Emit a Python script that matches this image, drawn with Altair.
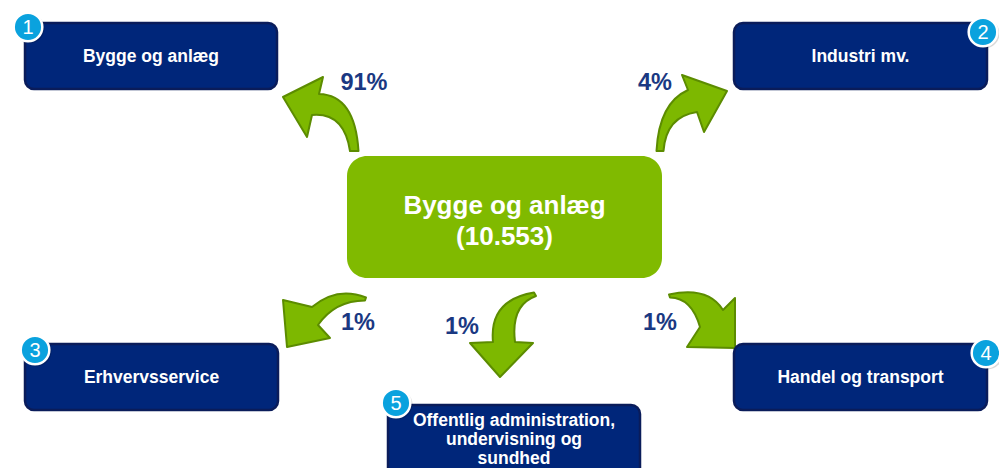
import altair as alt
import pandas as pd

# ---------------- content ----------------
source_sector = "Bygge og anlæg"
source_total = "10.553"
targets = ["Bygge og anlæg", "Industri mv.", "Erhvervsservice", "Handel og transport",
           "Offentlig administration,\nundervisning og\nsundhed"]
target_numbers = [1, 2, 3, 4, 5]
shares_pct = [91, 4, 1, 1, 1]

# ---------------- layout (page pixels) ----------------
box_x0 = [25, 734, 25, 734, 388]
box_x1 = [277, 987, 278, 987, 640]
box_y0 = [23, 23, 344, 344, 405]
box_y1 = [89, 89, 410, 410, 490]
text_y = [56, 56, 377, 377, 420]          # first text line
badge_x = [28, 983, 35, 986, 396]
badge_y = [27, 32, 350, 353, 403]
label_x = [364, 655, 358, 462, 660]
label_y = [82, 82, 322, 326, 322]
arrow_x = [354, 660, 365, 535, 670]
arrow_y = [151, 151, 299, 294, 296]
center_x0, center_x1, center_y0, center_y1 = 347, 662, 156, 278
center_text_y = 205                        # first text line

# arrow glyphs (offsets in px from the arrow anchor; size=4 -> 1 unit = 1 px)
arrow_paths = [
    "M4.5,0 Q1,-56 -35,-57 L-31,-74 L-71,-54 L-47,-14 L-42,-36 Q-10,-39 -4,0 Z",
    "M-3.5,0 Q-1,-48 28,-61 L22,-76 L67,-60 L44,-19 L37,-39 Q6,-34.5 3.5,0 Z",
    "M1,-1.5 Q-28,-13 -53,8 L-82,1 L-78,48 L-35,39 L-47,26 Q-30,1.6 0,1.5 Z",
    "M-1,-1.5 Q-46,6 -42,48 L-65,49 L-35,83 L-2,49 L-20,48 Q-24.5,11 1,2 Z",
    "M-1,-1.5 Q38,-10 53,14 L65,2 L65,52 L17,51 L30,31 Q21.6,1.75 0,1.5 Z",
]

NAVY = "#00267A"
NAVY_EDGE = "#0A1C5A"
GREEN = "#80BA00"
ARROW_FILL = "#7DB800"
ARROW_EDGE = "#5C8C00"
LABEL = "#1A3882"
BADGE = "#0AA2DE"
FONT = "Liberation Sans"

W, H = 991, 460
xs = alt.Scale(domain=[8, 8 + W], nice=False, zero=False)
ys = alt.Scale(domain=[8, 8 + H], nice=False, zero=False, reverse=True)

boxes = pd.DataFrame({
    "name": targets, "x0": box_x0, "x1": box_x1, "y0": box_y0, "y1": box_y1,
    "tx": [(a + b) / 2 for a, b in zip(box_x0, box_x1)], "ty": text_y,
})
badges = pd.DataFrame({"n": target_numbers, "x": badge_x, "y": badge_y})
labels = pd.DataFrame({"pct": [f"{v}%" for v in shares_pct], "x": label_x, "y": label_y})
center = pd.DataFrame({"x0": [center_x0], "x1": [center_x1], "y0": [center_y0], "y1": [center_y1],
                       "tx": [(center_x0 + center_x1) / 2], "ty": [center_text_y],
                       "txt": [f"{source_sector}\n({source_total})"]})

def X(f):
    return alt.X(f"{f}:Q", scale=xs, axis=None)

def Y(f):
    return alt.Y(f"{f}:Q", scale=ys, axis=None)

box_layer = alt.Chart(boxes).mark_rect(
    cornerRadius=9, fill=NAVY, stroke=NAVY_EDGE, strokeWidth=2.5, clip=True
).encode(x=X("x0"), x2="x1:Q", y=Y("y0"), y2="y1:Q")

box_text = alt.Chart(boxes).mark_text(
    font=FONT, fontWeight="bold", fontSize=17.5, color="white",
    lineBreak="\n", lineHeight=19, align="center", baseline="middle", dy=1
).encode(x=X("tx"), y=Y("ty"), text="name:N")

center_layer = alt.Chart(center).mark_rect(cornerRadius=20, fill=GREEN).encode(
    x=X("x0"), x2="x1:Q", y=Y("y0"), y2="y1:Q")

center_text = alt.Chart(center).mark_text(
    font=FONT, fontWeight="bold", fontSize=26, color="white",
    lineBreak="\n", lineHeight=31, align="center", baseline="middle", dy=1
).encode(x=X("tx"), y=Y("ty"), text="txt:N")

arrow_layers = []
for i, p in enumerate(arrow_paths):
    df = pd.DataFrame({"x": [arrow_x[i]], "y": [arrow_y[i]]})
    arrow_layers.append(
        alt.Chart(df).mark_point(
            shape=p, size=4, filled=True, fill=ARROW_FILL, stroke=ARROW_EDGE,
            strokeWidth=2, opacity=1, fillOpacity=1, strokeJoin="round"
        ).encode(x=X("x"), y=Y("y"))
    )

label_layer = alt.Chart(labels).mark_text(
    font=FONT, fontWeight="bold", fontSize=23.5, color=LABEL,
    align="center", baseline="middle", dy=1
).encode(x=X("x"), y=Y("y"), text="pct:N")

badge_shadow = alt.Chart(badges).mark_circle(
    size=900, color="#000000", opacity=0.15
).encode(x=X("x"), y=Y("y"), xOffset=alt.value(1.5), yOffset=alt.value(1.5))

badge_layer = alt.Chart(badges).mark_circle(
    size=820, fill=BADGE, stroke="white", strokeWidth=2.5, opacity=1
).encode(x=X("x"), y=Y("y"))

badge_text = alt.Chart(badges).mark_text(
    font=FONT, fontSize=20, color="white", align="center", baseline="middle", dy=1
).encode(x=X("x"), y=Y("y"), text="n:N")

chart = alt.layer(
    *arrow_layers, center_layer, center_text, box_layer, box_text,
    label_layer, badge_shadow, badge_layer, badge_text
).properties(
    width=W, height=H, padding=0,
    autosize=alt.AutoSizeParams(type="none")
).configure_view(stroke=None)

chart.save("out.html", embed_options={"renderer": "svg", "actions": False})
